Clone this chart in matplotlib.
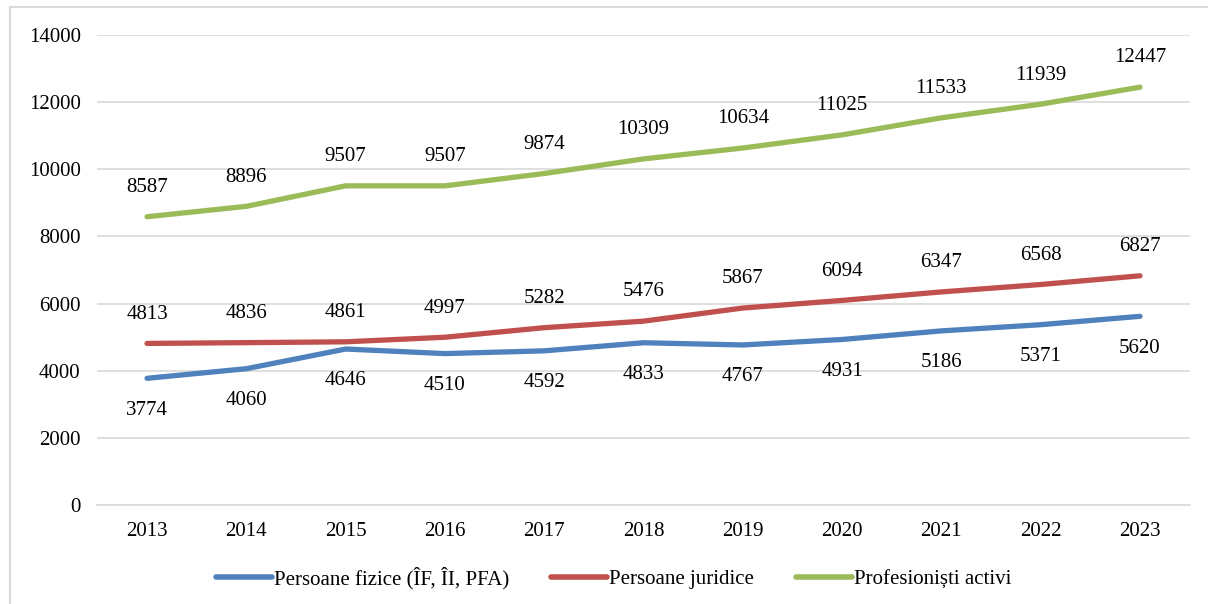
import matplotlib
matplotlib.use("Agg")
import matplotlib.pyplot as plt
from matplotlib.lines import Line2D

years = ["2013", "2014", "2015", "2016", "2017", "2018", "2019", "2020", "2021", "2022", "2023"]
fizice = [3774, 4060, 4646, 4510, 4592, 4833, 4767, 4931, 5186, 5371, 5620]
juridice = [4813, 4836, 4861, 4997, 5282, 5476, 5867, 6094, 6347, 6568, 6827]
activi = [8587, 8896, 9507, 9507, 9874, 10309, 10634, 11025, 11533, 11939, 12447]
series_names = ["Persoane fizice (ÎF, ÎI, PFA)", "Persoane juridice", "Profesioniști activi"]
y_ticks = [0, 2000, 4000, 6000, 8000, 10000, 12000, 14000]

plt.rcParams['font.family'] = ['Liberation Serif', 'DejaVu Serif']
FS = 15

fig = plt.figure(figsize=(12.08, 6.04), dpi=100)
W, H = 1208, 604
ax = fig.add_axes([97.4 / W, 1 - 505 / H, (1189.6 - 97.4) / W, (505 - 35) / H])

colors = ["#4F81BD", "#C0504D", "#9BBB59"]
x = list(range(len(years)))
data = [fizice, juridice, activi]
offsets = [-23, 21, 21]
for vals, c, off, name in zip(data, colors, offsets, series_names):
    ax.plot(x, vals, color=c, lw=3.8, solid_capstyle='round', label=name, zorder=3)
    for xi, v in zip(x, vals):
        ax.annotate(str(v), (xi, v), xytext=(0, off), textcoords='offset points',
                    ha='center', va='center', fontsize=FS, color='black')

ax.set_xlim(-0.5, len(years) - 0.5)
ax.set_ylim(0, 14000)
ax.set_yticks(y_ticks)
ax.set_yticklabels([str(t) for t in y_ticks], fontsize=FS)
ax.set_xticks(x)
ax.set_xticklabels(years, fontsize=FS)
ax.tick_params(length=0, pad=12)
ax.tick_params(axis='x', pad=12)
ax.grid(axis='y', color='#D9D9D9', lw=1.2)
ax.set_axisbelow(True)
for s in ['top', 'right', 'left']:
    ax.spines[s].set_visible(False)
ax.spines['bottom'].set_color('#D9D9D9')
ax.spines['bottom'].set_linewidth(1.2)

handles = [Line2D([0], [0], color=c, lw=4, solid_capstyle='round') for c in colors]
fig.legend(handles, series_names, loc='center', bbox_to_anchor=(0.508, 1 - 578 / H),
           ncol=3, frameon=False, fontsize=FS, handlelength=2.7, handletextpad=0.1,
           columnspacing=2.0)

# chart border
fig.add_artist(Line2D([10 / W, 10 / W], [0, 1 - 7 / H], color='#D9D9D9', lw=1.5,
                      transform=fig.transFigure))
fig.add_artist(Line2D([10 / W, 1], [1 - 7 / H, 1 - 7 / H], color='#D9D9D9', lw=1.5,
                      transform=fig.transFigure))

fig.savefig("out.png", dpi=100)
